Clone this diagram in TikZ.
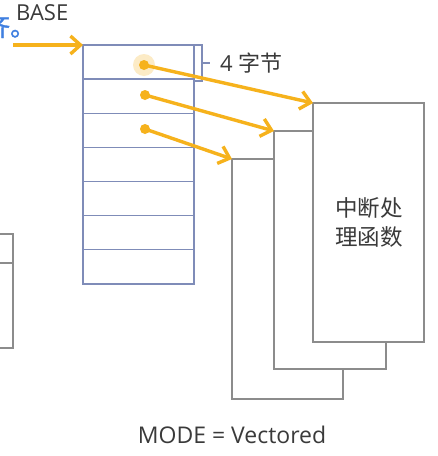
\documentclass[tikz,border=0pt]{standalone}
\usepackage{fontspec}
\setmainfont{Open Sans}
\newfontfamily\cjk{Noto Sans CJK SC}
\usetikzlibrary{arrows.meta}
\definecolor{arrc}{HTML}{F6B21C}
\definecolor{tblc}{HTML}{7F8CB8}
\definecolor{boxc}{HTML}{8C8C8C}
\definecolor{txtc}{HTML}{3A3A3A}
\definecolor{bluec}{HTML}{3F7FE0}
\tikzset{
  rowbox/.style={draw=tblc, line width=1.3pt, minimum width=111pt, minimum height=34.14pt, anchor=north west, inner sep=0pt, outer sep=0pt},
  fnbox/.style={draw=boxc, line width=1.3pt, fill=white, anchor=north west, inner sep=0pt, outer sep=0pt},
  ptr/.style={draw=arrc, line width=3.4pt, -{Straight Barb[length=10pt,width=18pt,line width=3.4pt]}},
  dotc/.style={circle, fill=arrc, minimum size=10pt, inner sep=0pt},
  lbl/.style={text=txtc, font=\fontsize{22pt}{26pt}\selectfont, inner sep=0pt},
}
\begin{document}
\begin{tikzpicture}[x=1pt,y=-1pt]
\useasboundingbox[fill=white] (0,0) rectangle (438,456);
% left partial box
\draw[boxc, line width=1.3pt] (-5,234) -- (13,234) -- (13,348) -- (-5,348);
\draw[boxc, line width=1.3pt] (-5,263) -- (13,263);
% blue partial text
\node[anchor=base west, inner sep=0pt, text=bluec, font=\cjk\fontsize{25pt}{27pt}\selectfont] (bt) at (-15,36) {\addfontfeatures{FakeBold=1.5}齐。};
% table
\foreach \i in {1,...,7}{
  \node[rowbox] (r\i) at (83,{45+(\i-1)*34.14}) {};
}
% bracket
\coordinate (bt1) at (195,45);
\coordinate (bt2) at (195,81);
\draw[tblc, line width=1.3pt] (bt1) -- (202,45) -- (202,81) -- (bt2);
\draw[tblc, line width=1.3pt] (202,63) -- (210,63);
\node[lbl, anchor=west] (four) at (220,63) {4\hspace{6pt}{\cjk 字节}};
% function boxes
\node[fnbox, minimum width=111pt, minimum height=240pt] (f3) at (232,159) {};
\node[fnbox, minimum width=112pt, minimum height=238pt] (f2) at (274,131) {};
\node[fnbox, minimum width=111pt, minimum height=239pt] (f1) at (313,103) {};
\node[text=txtc, font=\cjk\fontsize{22.5pt}{29pt}\selectfont, align=center, inner sep=0pt] (fn) at (369,222) {中断处\\理函数};
% BASE
\node[lbl, anchor=base west] (base) at (16,20) {BASE};
\coordinate (bstart) at (13,45);
\draw[ptr] (bstart) -- (r1.north west);
% dots and pointers
\fill[arrc, opacity=0.25] (144,65) circle (11pt);
\node[dotc] (d1) at (144,65) {};
\node[dotc] (d2) at (145,95) {};
\node[dotc] (d3) at (145,129) {};
\draw[ptr] (d1.center) -- (f1.north west);
\draw[ptr] (d2.center) -- (f2.north west);
\draw[ptr] (d3.center) -- (f3.north west);
% caption
\node[lbl, anchor=base, font=\fontsize{23pt}{26pt}\selectfont] (mode) at (232,443) {MODE = Vectored};
\end{tikzpicture}
\end{document}
